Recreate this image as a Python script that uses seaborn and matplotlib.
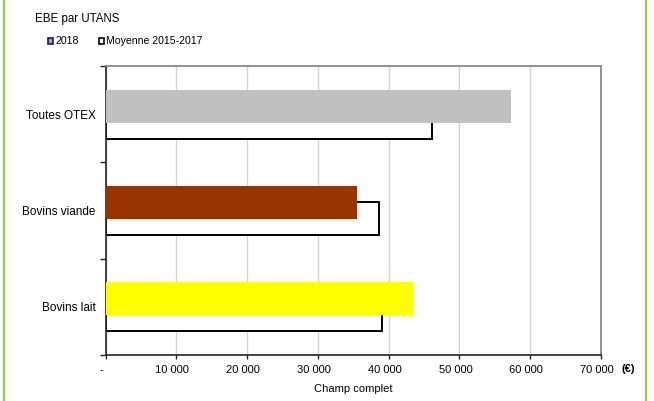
import matplotlib
matplotlib.use("Agg")
import matplotlib.pyplot as plt
import matplotlib.transforms as mtransforms
from matplotlib.patches import Rectangle
from matplotlib.lines import Line2D
from matplotlib.ticker import FixedLocator, FuncFormatter
import seaborn as sns
import pandas as pd

# EBE per UTANS by farm type (euros)
categories = ["Toutes OTEX", "Bovins viande", "Bovins lait"]
ebe_2018 = [57300, 35600, 43500]
ebe_moy_2015_2017 = [46100, 38600, 39100]
bar_colors_2018 = ["#C0C0C0", "#993300", "#FFFF00"]
x_ticks = [0, 10000, 20000, 30000, 40000, 50000, 60000, 70000]

sns.set_theme(style="white")
plt.rcParams["font.family"] = ["Liberation Sans", "DejaVu Sans"]
plt.rcParams["text.color"] = "black"
plt.rcParams["axes.labelcolor"] = "black"
plt.rcParams["xtick.color"] = "black"
plt.rcParams["ytick.color"] = "black"

df = pd.DataFrame({"cat": categories, "y2018": ebe_2018, "moy": ebe_moy_2015_2017})

fig = plt.figure(figsize=(6.54, 4.01), dpi=100)
W, H = 654, 401
ax = fig.add_axes([105.5 / W, (H - 355) / H, (601 - 105.5) / W, (355 - 66) / H])

bar_h = 0.343
shift = 0.083

# Average 2015-2017: white boxes, drawn first and pushed slightly down
sns.barplot(data=df, x="moy", y="cat", orient="h", order=categories,
            color="white", edgecolor="black", linewidth=1.4, width=bar_h,
            ax=ax, zorder=2)
n_moy = len(ax.patches)
for p in ax.patches:
    p.set_y(p.get_y() + shift)
    p.set_facecolor("white")

# 2018 values on top, pushed slightly up
sns.barplot(data=df, x="y2018", y="cat", orient="h", order=categories,
            hue="cat", palette=bar_colors_2018, saturation=1, legend=False,
            linewidth=0, width=bar_h, ax=ax, zorder=3)
for p in ax.patches[n_moy:]:
    p.set_y(p.get_y() - shift)

ax.set_xlim(0, 70000)
ax.set_ylim(2.5, -0.5)

# grid & spines
ax.xaxis.grid(True, color="#D4D4D4", linewidth=1.0, zorder=0)
ax.yaxis.grid(False)
ax.set_axisbelow(True)
for side in ["top", "right"]:
    ax.spines[side].set_color("#888888")
    ax.spines[side].set_linewidth(1.3)
for side in ["left", "bottom"]:
    ax.spines[side].set_color("#222222")
    ax.spines[side].set_linewidth(1.2)

# x ticks
ax.xaxis.set_major_locator(FixedLocator(x_ticks))
ax.xaxis.set_major_formatter(FuncFormatter(
    lambda v, _: "-" if v == 0 else f"{int(v):,}".replace(",", " ")))
ax.tick_params(axis="x", which="major", direction="out", length=3, width=1,
               color="#222222", labelsize=8, pad=4, bottom=True)
nudge = mtransforms.ScaledTranslation(-4 / 100, 0, fig.dpi_scale_trans)
for lbl in ax.get_xticklabels():
    lbl.set_transform(lbl.get_transform() + nudge)

# y ticks: marks at category boundaries, labels at centers
ax.yaxis.set_major_locator(FixedLocator([-0.5, 0.5, 1.5, 2.5]))
ax.yaxis.set_major_formatter(FuncFormatter(lambda v, _: ""))
ax.yaxis.set_minor_locator(FixedLocator([0, 1, 2]))
ax.set_yticklabels(categories, minor=True)
ax.tick_params(axis="y", which="major", direction="out", length=4, width=1,
               color="#222222", left=True)
ax.tick_params(axis="y", which="minor", length=0, labelsize=8.5, pad=7, left=True)

ax.set_xlabel("Champ complet", fontsize=8, labelpad=7)
ax.set_ylabel("")

# unit label
fig.text(621 / W, 1 - 369 / H, "(€)", fontsize=8, fontweight="bold",
         ha="left", va="center")

# title and legend
fig.text(35 / W, 1 - 19 / H, "EBE par UTANS", fontsize=8.3, ha="left", va="center")
fig.patches.append(Rectangle((48 / W, 1 - 44 / H), 5 / W, 6 / H,
                             transform=fig.transFigure, facecolor="#9999FF",
                             edgecolor="#1A1A40", linewidth=1.2))
fig.text(55 / W, 1 - 41 / H, "2018", fontsize=7.6, ha="left", va="center")
fig.patches.append(Rectangle((99 / W, 1 - 44 / H), 5 / W, 6 / H,
                             transform=fig.transFigure, facecolor="white",
                             edgecolor="black", linewidth=1.2))
fig.text(106 / W, 1 - 41 / H, "Moyenne 2015-2017", fontsize=7.6, ha="left", va="center")

# frame lines at the sides
for xp in (3.5 / W, 645.5 / W):
    fig.add_artist(Line2D([xp, xp], [0, 1], transform=fig.transFigure,
                          color="#9ACD4A", linewidth=1.6))

fig.savefig("out.png", dpi=100)
